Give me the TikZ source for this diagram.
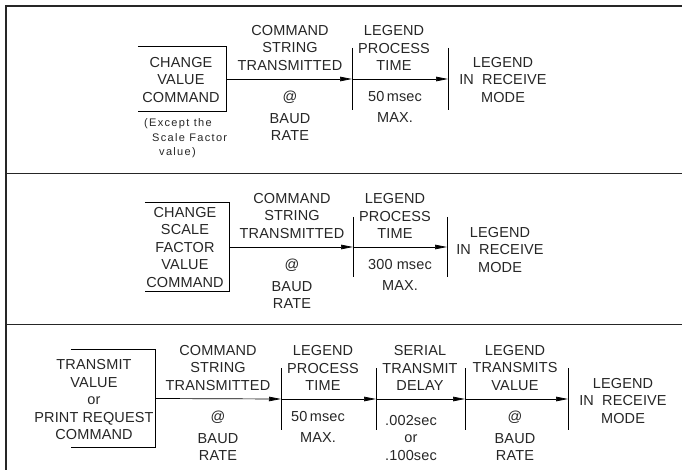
\documentclass[tikz,border=0pt]{standalone}
\usepackage{fontspec}
\setmainfont{Liberation Sans}[LetterSpace=1]
\newfontfamily\notefont{Liberation Sans}[LetterSpace=12]
\usetikzlibrary{arrows.meta}
\tikzset{
  lbl/.style={align=center,inner sep=0pt,text=black!85,font=\fontsize{14.5}{17.5}\selectfont},
  note/.style={align=left,inner sep=0pt,text=black!85,font=\notefont\fontsize{11}{14.5}\selectfont},
  cmdbox/.style={inner sep=0pt},
  flow/.style={-{Triangle[length=12pt,width=4.5pt]},line width=0.7pt},
  tick/.style={line width=0.7pt},
  frame/.style={line width=1.1pt,black!85}
}
\newcommand\rcvtext{LEGEND\\IN\hspace{4pt} RECEIVE\\MODE}
\begin{document}
\begin{tikzpicture}[x=1pt,y=-1pt]
  \useasboundingbox (0,0) rectangle (682,470);
  % frame and panel rules
  \draw[frame] (6,470) -- (6,6) -- (682,6);
  \draw[frame,line width=0.8pt] (6,173) -- (682,173);
  \draw[frame,line width=0.8pt] (6,324) -- (682,324);

  % panel 1
  \node[cmdbox,minimum width=88pt,minimum height=64pt] (chgbox) at (182,79) {};
  \node[lbl] (chg) at (181,80) {CHANGE\\VALUE\\COMMAND};
  \draw[tick] (chgbox.north west) -- (chgbox.north east) -- (chgbox.south east) -- (chgbox.south west);
  \node[note,anchor=west] (exc) at (144,138.5) {(Except the\\\hspace*{8pt}Scale Factor\\\hspace*{15pt}value)};
  \coordinate (t1a) at (352,79);
  \coordinate (t1b) at (448,79);
  \draw[tick] (t1a) ++(0,-31) -- ++(0,62);
  \draw[tick] (t1b) ++(0,-31) -- ++(0,62);
  \draw[flow] (chgbox.east) -- (t1a);
  \draw[flow] (t1a) -- (t1b);
  \node[lbl] (cst1) at (290,48) {COMMAND\\STRING\\TRANSMITTED};
  \node[lbl] (baud1) at (290,116) {@\\[4pt]BAUD\\RATE};
  \node[lbl] (lpt1) at (394,48) {LEGEND\\PROCESS\\TIME};
  \node[lbl] (max1) at (395,107) {50\,msec\\[4pt]MAX.};
  \node[lbl] (rcv1) at (503,80) {\rcvtext};

  % panel 2
  \node[cmdbox,minimum width=84pt,minimum height=88pt] (chg2box) at (187,247) {};
  \node[lbl] (chg2) at (185,247.5) {CHANGE\\SCALE\\FACTOR\\VALUE\\COMMAND};
  \draw[tick] (chg2box.north west) -- (chg2box.north east) -- (chg2box.south east) -- (chg2box.south west);
  \coordinate (t2a) at (353,247);
  \coordinate (t2b) at (447,247);
  \draw[tick] (t2a) ++(0,-30) -- ++(0,60);
  \draw[tick] (t2b) ++(0,-30) -- ++(0,60);
  \draw[flow] (chg2box.east) -- (t2a);
  \draw[flow] (t2a) -- (t2b);
  \node[lbl] (cst2) at (292,216) {COMMAND\\STRING\\TRANSMITTED};
  \node[lbl] (baud2) at (292,284) {@\\[4pt]BAUD\\RATE};
  \node[lbl] (lpt2) at (395,216) {LEGEND\\PROCESS\\TIME};
  \node[lbl] (max2) at (400,275) {300 msec\\[4pt]MAX.};
  \node[lbl] (rcv2) at (500,250) {\rcvtext};

  % panel 3
  \node[cmdbox,minimum width=84pt,minimum height=97pt] (txbox) at (113,398.5) {};
  \node[lbl] (tx) at (94,400) {TRANSMIT\\VALUE\\or\\PRINT REQUEST\hspace*{18pt}\\COMMAND};
  \draw[tick] (txbox.north west) -- (txbox.north east) -- (txbox.south east) -- (txbox.south west);
  \coordinate (t3a) at (281,399);
  \coordinate (t3b) at (376,399);
  \coordinate (t3c) at (465,399);
  \coordinate (t3d) at (568,399);
  \foreach \t in {t3a,t3b,t3c,t3d}
    \draw[tick] (\t) ++(0,-31) -- ++(0,62);
  \draw[flow] (txbox.east) -- (t3a);
  \draw[flow] (t3a) -- (t3b);
  \draw[flow] (t3b) -- (t3c);
  \draw[flow] (t3c) -- (t3d);
  \node[lbl] (cst3) at (218,368) {COMMAND\\STRING\\TRANSMITTED};
  \node[lbl] (baud3) at (218,436) {@\\[4pt]BAUD\\RATE};
  \node[lbl] (lpt3) at (323,368) {LEGEND\\PROCESS\\TIME};
  \node[lbl] (max3) at (318,427) {50\,msec\\[4pt]MAX.};
  \node[lbl] (ser3) at (420,368) {SERIAL\\TRANSMIT\\DELAY};
  \node[lbl] (dly3) at (411,438) {.002sec\\or\\.100sec};
  \node[lbl] (ltv3) at (515,368) {LEGEND\\TRANSMITS\\VALUE};
  \node[lbl] (baud4) at (515,436) {@\\[4pt]BAUD\\RATE};
  \node[lbl] (rcv3) at (623,401) {\rcvtext};
\end{tikzpicture}
\end{document}
